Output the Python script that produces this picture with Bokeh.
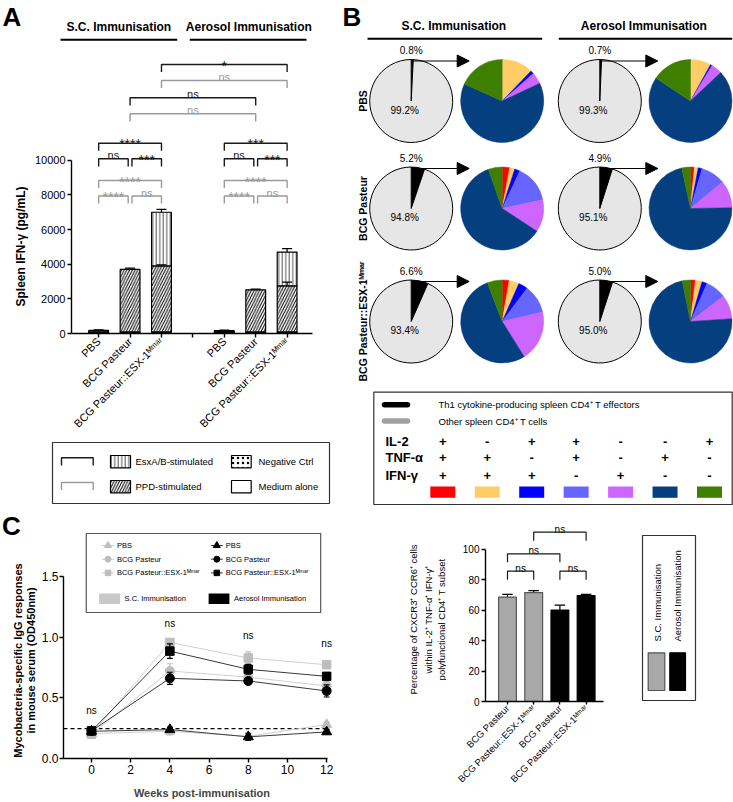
import numpy as np
from math import pi

from bokeh.plotting import figure
from bokeh.layouts import row, column
from bokeh.models import Range1d, FixedTicker, Arrow, NormalHead, NumeralTickFormatter
from bokeh.core.properties import value
from bokeh.embed import file_html
from bokeh.resources import INLINE

FONT = "Liberation Sans"
MMAR = "ᴹᵐᵃʳ"
ESX_STRAIN = "BCG Pasteur::ESX-1" + MMAR

# ---------------------------------------------------------------- data
# Panel A: spleen IFN-γ (pg/mL), stacked by stimulation condition
a_strains = ["PBS", "BCG Pasteur", ESX_STRAIN]
a_routes = ["S.C. Immunisation", "Aerosol Immunisation"]
a_slots = [1, 2, 3, 5, 6, 7]            # slot 4 separates the two routes
a_medium = [40, 40, 40, 40, 40, 40]
a_negctrl = [60, 50, 50, 60, 50, 50]
a_ppd = [80, 3610, 3810, 70, 2430, 2660]
a_esx = [0, 0, 3100, 0, 0, 1950]
a_ppd_err = [30, 80, 60, 25, 40, 220]
a_esx_err = [0, 0, 170, 0, 0, 200]
a_pairs = [(1, 2), (2, 3), (1, 3), (5, 6), (6, 7), (5, 7), (2, 6), (3, 7)]
a_sig_esx = ["ns", "***", "****", "ns", "***", "***", "ns", "*"]
a_sig_ppd = ["****", "ns", "****", "****", "ns", "****", "ns", "ns"]

# Panel B: Th1 cytokine-producing CD4+ T effectors (%) and their subsets (%)
b_rows = ["PBS", "BCG Pasteur", ESX_STRAIN]
b_th1_sc = [0.8, 5.2, 6.6]
b_th1_aero = [0.7, 4.9, 5.0]
b_subsets_sc = [
    [0.0, 12.2, 1.3, 0.0, 4.5, 63.7, 18.3],
    [2.9, 2.0, 2.1, 14.6, 12.6, 60.4, 5.4],
    [2.7, 3.9, 3.6, 11.1, 19.8, 53.1, 5.8],
]
b_subsets_aero = [
    [0.0, 8.0, 0.7, 0.0, 4.3, 71.3, 15.7],
    [1.5, 1.5, 1.5, 9.5, 10.7, 71.9, 3.4],
    [1.9, 2.6, 2.0, 8.1, 9.3, 72.9, 3.2],
]
b_il2 = ["+", "-", "+", "+", "-", "-", "+"]
b_tnf = ["+", "+", "-", "+", "-", "+", "-"]
b_ifn = ["+", "+", "+", "-", "+", "-", "-"]
b_colors = ["#ff0000", "#ffcc66", "#0000ff", "#6666ff", "#cc66ff", "#063f80", "#3f7f00"]

# Panel C: mycobacteria-specific IgG (OD450nm)
c_weeks = [0, 4, 8, 12]
c_sc_pbs = [0.205, 0.224, 0.183, 0.279]
c_sc_bcg = [0.200, 0.720, 0.670, 0.597]
c_sc_esx = [0.200, 0.955, 0.827, 0.772]
c_ae_pbs = [0.224, 0.238, 0.178, 0.219]
c_ae_bcg = [0.227, 0.660, 0.638, 0.556]
c_ae_esx = [0.227, 0.884, 0.734, 0.676]
c_sc_pbs_err = [0.02, 0.03, 0.02, 0.02]
c_sc_bcg_err = [0.02, 0.06, 0.03, 0.03]
c_sc_esx_err = [0.02, 0.03, 0.05, 0.02]
c_ae_pbs_err = [0.02, 0.02, 0.03, 0.02]
c_ae_bcg_err = [0.02, 0.05, 0.02, 0.05]
c_ae_esx_err = [0.02, 0.06, 0.04, 0.03]
c_cutoff = 0.246
c_sig = ["ns", "ns", "ns", "ns"]

# Panel D: CXCR3+ CCR6+ cells within the polyfunctional subset (%)
d_labels = ["BCG Pasteur", ESX_STRAIN, "BCG Pasteur", ESX_STRAIN]
d_route = ["sc", "sc", "aero", "aero"]
d_values = [68.5, 71.5, 60.0, 69.5]
d_err = [1.8, 1.3, 3.2, 0.8]
d_pairs = [(1, 2), (3, 4), (1, 3), (2, 4)]
d_sig = ["ns", "ns", "ns", "ns"]

# ---------------------------------------------------------------- helpers
GREY_SIG = "#9a9a9a"
SC_GREY = "#bdbdbd"


def canvas(x0, y0, w, h, bl=0, br=0, bt=0, bb=0):
    """Axis-free drawing area addressed in page pixels (x right, y = -row)."""
    p = figure(width=w, height=h, x_range=Range1d(x0 + bl, x0 + w - br),
               y_range=Range1d(-(y0 + h - bb), -(y0 + bt)), x_axis_type=None,
               y_axis_type=None, output_backend="svg", toolbar_location=None,
               min_border_left=bl, min_border_right=br, min_border_top=bt,
               min_border_bottom=bb)
    p.outline_line_color = None
    return p


def put_text(p, x, y, s, size, bold=False, align="center", baseline="middle",
             color="black", angle=0.0):
    p.text(x=[x], y=[y], text=[s], text_font=value(FONT), text_font_size=size,
           text_font_style="bold" if bold else "normal", text_align=align,
           text_baseline=baseline, text_color=color, angle=angle)


def style_axes(p, size):
    p.xgrid.visible = False
    p.ygrid.visible = False
    p.outline_line_color = None
    for ax in p.axis:
        ax.axis_line_width = 1.4
        ax.axis_line_color = "black"
        ax.major_tick_line_width = 1.4
        ax.major_tick_in = 0
        ax.major_tick_out = 4
        ax.minor_tick_line_color = None
        ax.major_label_text_font = FONT
        ax.major_label_text_font_size = size
        ax.major_label_text_color = "black"
        ax.major_label_standoff = 2


def bracket_ends(pairs, levels, i, inset):
    a, b = pairs[i]
    left, right = float(a), float(b)
    for j, (c, d) in enumerate(pairs):
        if j != i and levels[j] == levels[i]:
            if d == a:
                left += inset
            if c == b:
                right -= inset
    return left, right


def pie_angles(parts):
    f = np.asarray(parts, float)
    f = f / f.sum()
    c = np.concatenate([[0.0], np.cumsum(f)])
    return pi / 2 - 2 * pi * c[1:], pi / 2 - 2 * pi * c[:-1]


PPD_STYLE = dict(fill_color="white", hatch_pattern="/", hatch_scale=5.5,
                 hatch_color="black", hatch_weight=1, line_color="black", line_width=1.2)
ESX_STYLE = dict(fill_color="white", hatch_pattern="|", hatch_scale=3.5,
                 hatch_color="#444444", hatch_weight=0.9, line_color="black", line_width=1.2)
NEG_STYLE = dict(fill_color="white", hatch_pattern=".", hatch_scale=5,
                 hatch_color="black", line_color="black", line_width=1.2)
MED_STYLE = dict(fill_color="white", line_color="black", line_width=1.2)

# ---------------------------------------------------------------- panel A
# header strip: panel letter and route headings
a_head = canvas(0, 0, 338, 44)
put_text(a_head, 2, -16, "A", "26px", bold=True, align="left")
put_text(a_head, 118.3, -26.7, a_routes[0], "12px", bold=True)
put_text(a_head, 248.3, -26.7, a_routes[1], "12px", bold=True)
a_head.segment(x0=[60, 189.3], y0=[-39.3, -39.3], x1=[176.7, 306], y1=[-39.3, -39.3],
               line_color="black", line_width=2)

# bar chart
A_X0, A_Y0, A_W, A_H = 31, 44, 307, 396
A_L, A_R, A_ZERO = 68, 312, 333          # frame edges and baseline, page px
A_SLOT_PX = 31.8
A_PX_PER_UNIT = 17.32 / 1000.0


def a_x(px):
    return 1 + (px - 95.5) / A_SLOT_PX


def a_y(py):
    return (A_ZERO - py) / A_PX_PER_UNIT


pa = figure(width=A_W, height=A_H, x_range=Range1d(a_x(A_L), a_x(A_R)),
            y_range=Range1d(0, a_y(A_Y0)), output_backend="svg", toolbar_location=None,
            min_border_left=A_L - A_X0, min_border_right=A_X0 + A_W - A_R,
            min_border_top=0, min_border_bottom=A_Y0 + A_H - A_ZERO)
style_axes(pa, "11px")
pa.xaxis.ticker = FixedTicker(ticks=[1, 2, 3, 4, 5, 6, 7])
overrides = {4: ""}
for s, name in zip(a_slots, a_strains * 2):
    overrides[s] = name
pa.xaxis.major_label_overrides = overrides
pa.xaxis.major_label_orientation = pi / 4
pa.yaxis.ticker = FixedTicker(ticks=[0, 2000, 4000, 6000, 8000, 10000])
pa.yaxis.bounds = (0, 10000)

xs = np.array(a_slots, float)
b1 = np.array(a_medium, float)
b2 = b1 + np.array(a_negctrl, float)
b3 = b2 + np.array(a_ppd, float)
esx = np.array(a_esx, float)
b4 = b3 + esx
has_esx = esx > 0
BAR_W = 0.63
pa.vbar(x=xs, width=BAR_W, bottom=0, top=b1, **MED_STYLE)
pa.vbar(x=xs, width=BAR_W, bottom=b1, top=b2, **NEG_STYLE)
pa.vbar(x=xs, width=BAR_W, bottom=b2, top=b3, **PPD_STYLE)
pa.vbar(x=xs[has_esx], width=BAR_W, bottom=b3[has_esx], top=b4[has_esx], **ESX_STYLE)

ppd_hi = b3 + np.array(a_ppd_err, float)
pa.segment(x0=xs, y0=b3, x1=xs, y1=ppd_hi, line_color="black", line_width=1.2)
pa.segment(x0=xs - 0.16, y0=ppd_hi, x1=xs + 0.16, y1=ppd_hi, line_color="black", line_width=1.2)
esx_hi = b4 + np.array(a_esx_err, float)
pa.segment(x0=xs[has_esx], y0=b4[has_esx], x1=xs[has_esx], y1=esx_hi[has_esx],
           line_color="black", line_width=1.2)
pa.segment(x0=xs[has_esx] - 0.16, y0=esx_hi[has_esx], x1=xs[has_esx] + 0.16,
           y1=esx_hi[has_esx], line_color="black", line_width=1.2)

# significance brackets (black: EsxA/B-stimulated, grey: PPD-stimulated)
lv_esx = [a_y(v) for v in (158.3, 158.3, 142.7, 158.3, 158.3, 142.7, 97.3, 64.0)]
lv_ppd = [a_y(v) for v in (195.5, 195.5, 180.0, 195.5, 195.5, 180.0, 113.3, 80.0)]
drop = 7.6 / A_PX_PER_UNIT
for levels, marks, col in [(lv_esx, a_sig_esx, "#1a1a1a"), (lv_ppd, a_sig_ppd, GREY_SIG)]:
    bx, by_ = [], []
    for i in range(len(a_pairs)):
        l, r = bracket_ends(a_pairs, levels, i, 0.06)
        y = levels[i]
        bx.append([l, l, r, r])
        by_.append([y - drop, y, y, y - drop])
        mid = (l + r) / 2
        if marks[i] == "ns":
            put_text(pa, mid, y + 3.5 / A_PX_PER_UNIT, "ns", "11px",
                     baseline="alphabetic", color=col)
        else:
            put_text(pa, mid, y - 1.0 / A_PX_PER_UNIT, marks[i], "14px",
                     baseline="alphabetic", color=col)
    pa.multi_line(xs=bx, ys=by_, line_color=col, line_width=1.4)

# y-axis title strip
ca_left = canvas(0, A_Y0, A_X0, A_H, bb=A_Y0 + A_H - A_ZERO)
put_text(ca_left, 20, -246, "Spleen IFN-γ (pg/mL)", "12px", bold=True, angle=pi / 2)

# key of panel A
a_leg = canvas(0, 440, 338, 68)
a_leg.quad(left=52, right=329, top=-442, bottom=-503, fill_color=None,
           line_color="#333333", line_width=1.2)
a_leg.multi_line(xs=[[61, 61, 92.7, 92.7], [61, 61, 92.7, 92.7]],
                 ys=[[-465, -457.3, -457.3, -465], [-489.5, -482, -482, -489.5]],
                 line_color=["#1a1a1a", GREY_SIG], line_width=1.4)
a_leg.quad(left=110, right=130, top=-455, bottom=-467.3, **ESX_STYLE)
a_leg.quad(left=110, right=130, top=-480, bottom=-492.3, **PPD_STYLE)
a_leg.quad(left=231, right=250.7, top=-455, bottom=-467.3, **NEG_STYLE)
a_leg.quad(left=231, right=250.7, top=-480, bottom=-492.3, **MED_STYLE)
for x, py, s in [(135, 461, "EsxA/B-stimulated"), (135, 486, "PPD-stimulated"),
                 (258, 461, "Negative Ctrl"), (258, 486, "Medium alone")]:
    put_text(a_leg, x, -py, s, "9.5px", align="left")

# ---------------------------------------------------------------- panel B
pb = canvas(338, 0, 395, 508)
put_text(pb, 342, -16, "B", "26px", bold=True, align="left")
put_text(pb, 453.3, -25, a_routes[0], "12px", bold=True)
put_text(pb, 643.3, -25, a_routes[1], "12px", bold=True)
pb.segment(x0=[367, 558.3], y0=[-38.3, -38.3], x1=[541.7, 731.7], y1=[-38.3, -38.3],
           line_color="black", line_width=2)

PIE_R = 41.5
big_cx = [410.7, 599.3]
small_cx = [501.7, 690.0]
row_cy = [100.5, 208.0, 321.0]
for ri, rname in enumerate(b_rows):
    cyp = row_cy[ri]
    put_text(pb, 362, -cyp, rname, "10.5px", bold=True, angle=pi / 2)
    for k, (th1, parts) in enumerate([(b_th1_sc[ri], b_subsets_sc[ri]),
                                      (b_th1_aero[ri], b_subsets_aero[ri])]):
        bx, sx = big_cx[k], small_cx[k]
        s, e = pie_angles([th1, 100 - th1])
        pb.wedge(x=bx, y=-cyp, radius=PIE_R, start_angle=s, end_angle=e,
                 direction="anticlock", fill_color=["black", "#e6e6e6"],
                 line_color="black", line_width=1)
        fr = np.asarray(parts, float)
        keep = fr > 0
        s, e = pie_angles(fr)
        cols = [c for c, kp in zip(b_colors, keep) if kp]
        pb.wedge(x=sx, y=-cyp, radius=PIE_R, start_angle=s[keep], end_angle=e[keep],
                 direction="anticlock", fill_color=cols, line_color=cols, line_width=0.5)
        put_text(pb, bx, -(cyp - PIE_R - 9), f"{th1:.1f}%", "10px")
        put_text(pb, bx - 6.5, -(cyp + 9), f"{100 - th1:.1f}%", "10px")
        pb.add_layout(Arrow(end=NormalHead(size=12, fill_color="black", line_color="black"),
                            x_start=bx, y_start=-(cyp - PIE_R + 1.5),
                            x_end=bx + 58, y_end=-(cyp - PIE_R + 1.5),
                            line_color="black", line_width=1.2))

# cytokine subset key
pb.quad(left=373.3, right=731.7, top=-391.7, bottom=-504, fill_color=None,
        line_color="#333333", line_width=1.2)
pb.segment(x0=[384, 384], y0=[-404.3, -420.5], x1=[407, 407], y1=[-404.3, -420.5],
           line_color=["black", "#a0a0a0"], line_width=5.5, line_cap="round")
put_text(pb, 438, -404.3, "Th1 cytokine-producing spleen CD4⁺ T effectors", "9.5px", align="left")
put_text(pb, 438, -421, "Other spleen CD4⁺ T cells", "9.5px", align="left")
key_x = [442.3 + 44.45 * j for j in range(len(b_colors))]
for py, name, signs in [(440.7, "IL-2", b_il2), (457.3, "TNF-α", b_tnf), (475, "IFN-γ", b_ifn)]:
    put_text(pb, 385, -py, name, "13px", bold=True, align="left")
    for j, sg in enumerate(signs):
        put_text(pb, key_x[j], -py, sg, "13px", bold=True)
pb.quad(left=[x - 12.5 for x in key_x], right=[x + 12.5 for x in key_x],
        top=-486, bottom=-497.3, fill_color=b_colors, line_color=None)

# ---------------------------------------------------------------- panel C
C_X0, C_Y0, C_W, C_H = 38, 508, 332, 294
C_L, C_R, C_AXIS_END, C_ZERO = 60, 340, 327, 758     # page px
C_X0_PX, C_WEEK_PX, C_UNIT_PX = 88.3, 19.808, 121.5


def c_x(px):
    return (px - C_X0_PX) / C_WEEK_PX


def c_y(py):
    return (C_ZERO - py) / C_UNIT_PX


pc = figure(width=C_W, height=C_H, x_range=Range1d(c_x(C_L), c_x(C_R)),
            y_range=Range1d(0, c_y(C_Y0)), output_backend="svg", toolbar_location=None,
            min_border_left=C_L - C_X0, min_border_right=C_X0 + C_W - C_R,
            min_border_top=0, min_border_bottom=C_Y0 + C_H - C_ZERO)
style_axes(pc, "12px")
pc.yaxis.major_label_standoff = 1
pc.xaxis.ticker = FixedTicker(ticks=[0, 2, 4, 6, 8, 10, 12])
pc.xaxis.bounds = (c_x(C_L), c_x(C_AXIS_END))
pc.yaxis.ticker = FixedTicker(ticks=[0, 0.5, 1.0, 1.5])
pc.yaxis.formatter = NumeralTickFormatter(format="0.0")
pc.yaxis.bounds = (0, 1.5)
pc.xaxis.axis_label = "Weeks post-immunisation"
pc.xaxis.axis_label_text_font = FONT
pc.xaxis.axis_label_text_font_size = "11px"
pc.xaxis.axis_label_text_font_style = "bold"
pc.xaxis.axis_label_standoff = 10

pc.segment(x0=[c_x(C_L)], y0=[c_cutoff], x1=[c_x(C_AXIS_END)], y1=[c_cutoff],
           line_color="black", line_dash="4 3", line_width=1.2)

wk = np.array(c_weeks, float)
c_series = [
    (c_sc_pbs, c_sc_pbs_err, "triangle", SC_GREY, "#d0d0d0"),
    (c_sc_bcg, c_sc_bcg_err, "circle", SC_GREY, "#d0d0d0"),
    (c_sc_esx, c_sc_esx_err, "square", SC_GREY, "#d0d0d0"),
    (c_ae_pbs, c_ae_pbs_err, "triangle", "black", "#3a3a3a"),
    (c_ae_bcg, c_ae_bcg_err, "circle", "black", "#3a3a3a"),
    (c_ae_esx, c_ae_esx_err, "square", "black", "#3a3a3a"),
]
MSIZE = {"triangle": 10, "circle": 9, "square": 8.5}
for vals, errs, marker, mcol, lcol in c_series:
    v = np.array(vals, float)
    e = np.array(errs, float)
    pc.line(wk, v, line_color=lcol, line_width=1)
    pc.segment(x0=wk, y0=v - e, x1=wk, y1=v + e, line_color=mcol, line_width=1.2)
    pc.segment(x0=wk - 0.15, y0=v + e, x1=wk + 0.15, y1=v + e, line_color=mcol, line_width=1.2)
    pc.segment(x0=wk - 0.15, y0=v - e, x1=wk + 0.15, y1=v - e, line_color=mcol, line_width=1.2)
    pc.scatter(wk, v, marker=marker, size=MSIZE[marker], fill_color=mcol, line_color=mcol)

for w, s, py in zip(c_weeks, c_sig, [710.0, 623.3, 635.3, 642.7]):
    put_text(pc, w, c_y(py), s, "10px")

# key of panel C
pc.quad(left=c_x(83), right=c_x(320), top=c_y(533), bottom=c_y(612), fill_color="white",
        line_color="#555555", line_width=1.2)
for j, (marker, name) in enumerate([("triangle", "PBS"), ("circle", "BCG Pasteur"),
                                    ("square", ESX_STRAIN)]):
    py = 545 + 13.7 * j
    for xm, col, lcol in [(105, SC_GREY, "#c8c8c8"), (215, "black", "#3a3a3a")]:
        pc.segment(x0=[c_x(xm - 6)], y0=[c_y(py)], x1=[c_x(xm + 6)], y1=[c_y(py)],
                   line_color=lcol, line_width=1)
        pc.scatter([c_x(xm)], [c_y(py)], marker=marker, size=MSIZE[marker] - 3,
                   fill_color=col, line_color=col)
        put_text(pc, c_x(xm + 9), c_y(py), name, "7.5px", align="left")
pc.quad(left=[c_x(96), c_x(206.7)], right=[c_x(117.3), c_x(227.7)], top=c_y(593),
        bottom=c_y(603.5), fill_color=["#c8c8c8", "black"], line_color=None)
put_text(pc, c_x(121.7), c_y(598.3), "S.C. Immunisation", "7.5px", align="left")
put_text(pc, c_x(232.3), c_y(598.3), "Aerosol Immunisation", "7.5px", align="left")

# letter and y-axis title strip
cc_left = canvas(0, C_Y0, C_X0, C_H, bb=C_Y0 + C_H - C_ZERO)
put_text(cc_left, 11, -525, "C", "26px", bold=True)
put_text(cc_left, 17.5, -660, "Mycobacteria-specific IgG responses", "11px", bold=True,
         angle=pi / 2)
put_text(cc_left, 30.5, -660, "in mouse serum (OD450nm)", "11px", bold=True, angle=pi / 2)

# ---------------------------------------------------------------- panel D
D_X0, D_Y0, D_W, D_H = 446, 508, 174, 294
D_L, D_R, D_ZERO = 485, 603, 701          # page px
D_SLOT_PX, D_UNIT_PX = 26.2, 1.524


def d_x(px):
    return 1 + (px - 507) / D_SLOT_PX


def d_y(py):
    return (D_ZERO - py) / D_UNIT_PX


pd_ = figure(width=D_W, height=D_H, x_range=Range1d(d_x(D_L), d_x(D_R)),
             y_range=Range1d(0, d_y(D_Y0)), output_backend="svg", toolbar_location=None,
             min_border_left=D_L - D_X0, min_border_right=D_X0 + D_W - D_R,
             min_border_top=0, min_border_bottom=D_Y0 + D_H - D_ZERO)
style_axes(pd_, "10px")
pd_.xaxis.major_label_text_font_size = "9.5px"
pd_.xaxis.ticker = FixedTicker(ticks=[1, 2, 3, 4])
pd_.xaxis.major_label_overrides = {i + 1: s for i, s in enumerate(d_labels)}
pd_.xaxis.major_label_orientation = pi / 4
pd_.xaxis.major_tick_out = 3
pd_.yaxis.ticker = FixedTicker(ticks=[0, 20, 40, 60, 80, 100])
pd_.yaxis.bounds = (0, 100)

dx = np.arange(1, len(d_values) + 1, dtype=float)
dv = np.array(d_values, float)
de = np.array(d_err, float)
d_fill = ["#a8a8a8" if r == "sc" else "black" for r in d_route]
d_line = ["#555555" if r == "sc" else "black" for r in d_route]
pd_.segment(x0=dx, y0=dv, x1=dx, y1=dv + de, line_color="black", line_width=1.2)
pd_.segment(x0=dx - 0.2, y0=dv + de, x1=dx + 0.2, y1=dv + de, line_color="black", line_width=1.2)
pd_.vbar(x=dx, width=0.68, bottom=0, top=dv, fill_color=d_fill, line_color=d_line, line_width=1.2)

d_levels = [d_y(570.7), d_y(570.7), d_y(553.3), d_y(531.7)]
d_drop = 8.5 / D_UNIT_PX
bxs, bys = [], []
for i, (a, b) in enumerate(d_pairs):
    y = d_levels[i]
    bxs.append([a, a, b, b])
    bys.append([y - d_drop, y, y, y - d_drop])
    put_text(pd_, (a + b) / 2, y + 3 / D_UNIT_PX, d_sig[i], "10px", baseline="alphabetic")
pd_.multi_line(xs=bxs, ys=bys, line_color="#1a1a1a", line_width=1.2)

# y-axis title strip
cd_left = canvas(370, D_Y0, D_X0 - 370, D_H, bb=D_Y0 + D_H - D_ZERO)
for px, s in [(413, "Percentage of CXCR3⁺ CCR6⁺ cells"), (427.5, "within IL-2⁺ TNF-α⁺ IFN-γ⁺"),
              (441, "polyfunctional CD4⁺ T subset")]:
    put_text(cd_left, px, -619, s, "9.5px", angle=pi / 2)

# key of panel D
pd_leg = canvas(620, D_Y0, 113, D_H, bb=D_Y0 + D_H - D_ZERO)
pd_leg.quad(left=642, right=695, top=-535, bottom=-700, fill_color=None,
            line_color="#333333", line_width=1.2)
put_text(pd_leg, 657, -641, "S.C. Immunisation", "9.5px", align="left", angle=pi / 2)
put_text(pd_leg, 677, -641, "Aerosol Immunisation", "9.5px", align="left", angle=pi / 2)
pd_leg.quad(left=[647.7, 669.3], right=[664.3, 685], top=-652.3, bottom=-690,
            fill_color=["#a8a8a8", "black"], line_color=["#555555", "black"], line_width=1.2)

# ---------------------------------------------------------------- page
col_a = column(a_head, row(column(ca_left), column(pa)), a_leg)
row1 = row(col_a, pb)
row2 = row(row(column(cc_left), column(pc)),
           row(column(cd_left), column(pd_), column(pd_leg)))
page = column(row1, row2)
open("out.html", "w").write(file_html(page, INLINE, title="Immunogenicity"))
